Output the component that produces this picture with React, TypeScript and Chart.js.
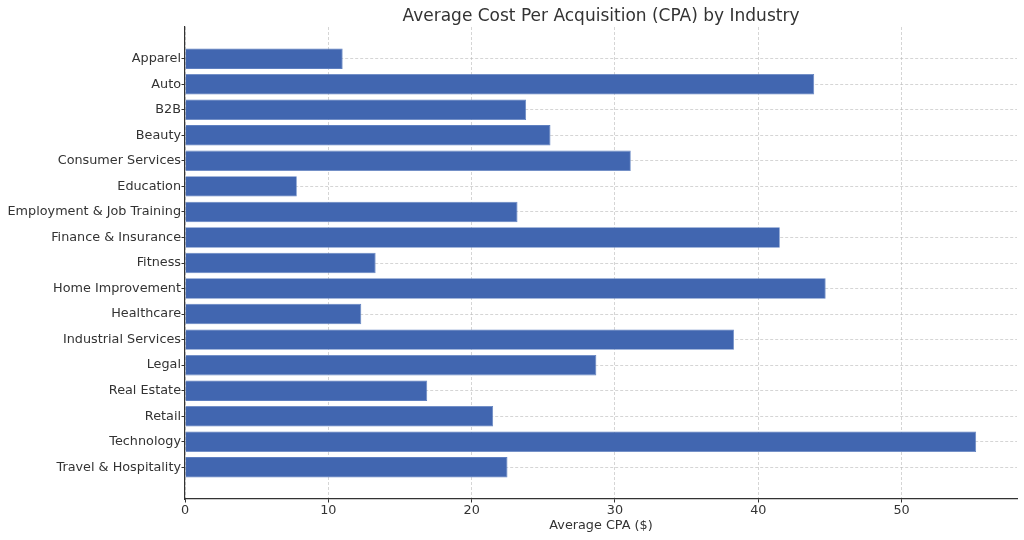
import React, { useEffect, useRef } from "react";
import { Chart, registerables } from "chart.js";

Chart.register(...registerables);

const categories: string[] = [
  "Apparel",
  "Auto",
  "B2B",
  "Beauty",
  "Consumer Services",
  "Education",
  "Employment & Job Training",
  "Finance & Insurance",
  "Fitness",
  "Home Improvement",
  "Healthcare",
  "Industrial Services",
  "Legal",
  "Real Estate",
  "Retail",
  "Technology",
  "Travel & Hospitality",
];

const cpaValues: number[] = [
  11.0, 43.9, 23.8, 25.5, 31.1, 7.8, 23.2, 41.5, 13.3, 44.7, 12.3, 38.3, 28.7,
  16.9, 21.5, 55.2, 22.5,
];

const xTicks: number[] = [0, 10, 20, 30, 40, 50];

const TITLE = "Average Cost Per Acquisition (CPA) by Industry";
const X_LABEL = "Average CPA ($)";

const FONT = "'DejaVu Sans', sans-serif";
const TEXT = "#333333";
const GRID = "rgba(185,185,185,0.6)";

export default function App() {
  const ref = useRef<HTMLCanvasElement | null>(null);

  useEffect(() => {
    if (!ref.current) return;
    const titlePlugin = {
      id: "centerTitle",
      afterDraw(chart: any) {
        const { ctx, chartArea } = chart;
        ctx.save();
        ctx.font = `17px ${FONT}`;
        ctx.fillStyle = TEXT;
        ctx.textAlign = "center";
        ctx.textBaseline = "alphabetic";
        ctx.fillText(TITLE, (chartArea.left + chartArea.right) / 2, 20.5);
        ctx.restore();
      },
    };
    const chart = new Chart(ref.current, {
      type: "bar",
      data: {
        datasets: [
          {
            data: cpaValues.map((v, i) => ({ x: v, y: i })),
            backgroundColor: "#4166b0",
            borderColor: "#5f80c0",
            borderWidth: 0.8,
            barPercentage: 0.8,
            categoryPercentage: 1.0,
          },
        ],
      },
      options: {
        indexAxis: "y",
        animation: false,
        responsive: false,
        layout: { padding: { left: 0, right: 7, top: 27, bottom: 0 } },
        plugins: {
          legend: { display: false },
          tooltip: { enabled: false },
          title: { display: false },
        },
        scales: {
          x: {
            type: "linear",
            min: 0,
            max: 58.05,
            z: 1,
            offset: false,
            afterBuildTicks: (scale: any) => {
              scale.ticks = xTicks.map((v) => ({ value: v }));
            },
            afterFit: (scale: any) => {
              scale.height = 41;
            },
            grid: {
              color: GRID,
              offset: false,
              drawTicks: true,
              tickLength: 3.5,
              tickColor: TEXT,
              tickBorderDash: [],
            },
            border: { display: true, color: TEXT, width: 1.2, dash: [3, 2] },
            ticks: {
              color: TEXT,
              font: { family: FONT, size: 12.8 },
              padding: 0,
              maxRotation: 0,
            },
            title: {
              display: true,
              text: X_LABEL,
              color: TEXT,
              font: { family: FONT, size: 12.8 },
              padding: { top: 2, bottom: 7 },
            },
          },
          y: {
            type: "linear",
            min: -1.24,
            max: 17.24,
            reverse: true,
            z: 1,
            offset: false,
            afterBuildTicks: (scale: any) => {
              scale.ticks = categories.map((_, i) => ({ value: i }));
            },
            afterFit: (scale: any) => {
              scale.width = 185;
            },
            grid: {
              color: GRID,
              offset: false,
              drawTicks: true,
              tickLength: 3.5,
              tickColor: TEXT,
              tickBorderDash: [],
            },
            border: { display: true, color: TEXT, width: 1.2, dash: [3, 2] },
            ticks: {
              color: TEXT,
              font: { family: FONT, size: 12.8 },
              padding: 0.5,
              autoSkip: false,
              callback: (v: any) => categories[v as number] ?? "",
            },
          },
        },
      },
      plugins: [titlePlugin],
    } as any);
    return () => chart.destroy();
  }, []);

  return (
    <div style={{ position: "absolute", left: 0, top: 0, width: 1024, height: 540, background: "#fff" }}>
      <canvas ref={ref} width={1024} height={540} />
    </div>
  );
}
